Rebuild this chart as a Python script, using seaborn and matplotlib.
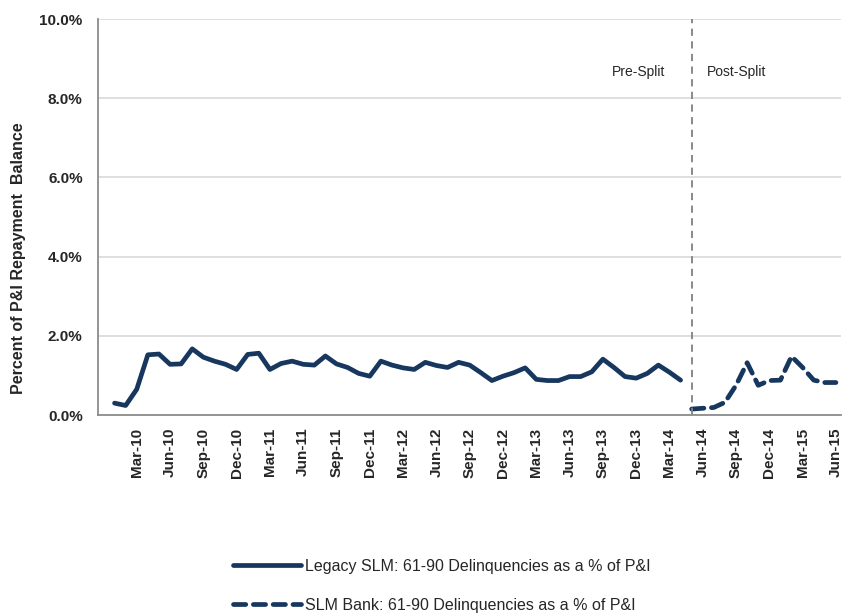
import numpy as np
import pandas as pd
import seaborn as sns
import matplotlib.pyplot as plt
from matplotlib.lines import Line2D

# monthly categories Jan-10 .. Jun-15
months = pd.date_range("2010-01-01", "2015-06-01", freq="MS")
month_labels = [d.strftime("%b-%y") for d in months]

legacy_slm = [0.30, 0.24, 0.65, 1.52, 1.54, 1.28, 1.29, 1.67, 1.46, 1.36,
              1.28, 1.15, 1.53, 1.56, 1.15, 1.30, 1.36, 1.28, 1.26, 1.49,
              1.29, 1.20, 1.05, 0.98, 1.36, 1.26, 1.19, 1.15, 1.33, 1.25,
              1.20, 1.33, 1.26, 1.07, 0.87, 0.98, 1.07, 1.19, 0.90, 0.87,
              0.87, 0.97, 0.97, 1.09, 1.41, 1.20, 0.97, 0.93, 1.05, 1.26,
              1.08, 0.88]
slm_bank = [0.15, 0.17, 0.19, 0.32, 0.75, 1.32, 0.75, 0.87, 0.88, 1.48,
            1.20, 0.88, 0.82, 0.82]

legacy_name = "Legacy SLM: 61-90 Delinquencies as a % of P&I"
bank_name = "SLM Bank: 61-90 Delinquencies as a % of P&I"

df = pd.concat([
    pd.DataFrame({"pos": np.arange(len(legacy_slm)), "value": legacy_slm,
                  "series": legacy_name}),
    pd.DataFrame({"pos": np.arange(len(legacy_slm), len(legacy_slm) + len(slm_bank)),
                  "value": slm_bank, "series": bank_name}),
])

sns.set_style("white")
plt.rcParams["font.family"] = ["Liberation Sans", "DejaVu Sans"]

navy = "#17375E"
fig = plt.figure(figsize=(8.44, 6.13), dpi=100)
ax = fig.add_axes([0.116, 0.323, 0.881, 0.646])

sns.lineplot(data=df, x="pos", y="value", hue="series", style="series",
             palette={legacy_name: navy, bank_name: navy},
             dashes={legacy_name: "", bank_name: (2.6, 1.6)},
             linewidth=3.4, ax=ax, legend=True)
for ln in ax.get_lines():
    ln.set_solid_capstyle("round")
    ln.set_dash_capstyle("round")

ax.set_xlim(-1.5, len(months) - 0.5)
ax.set_ylim(0, 10)
ax.set_yticks(np.arange(0, 10.1, 2))
ax.set_yticklabels([f"{v:.1f}%" for v in np.arange(0, 10.1, 2)],
                   fontsize=11, fontweight="bold")
tick_pos = [i for i, d in enumerate(months) if d.month in (3, 6, 9, 12)]
ax.set_xticks(tick_pos)
ax.set_xticklabels([month_labels[i] for i in tick_pos], rotation=90,
                   fontsize=11, fontweight="bold")
ax.tick_params(axis="x", length=0, pad=9)
ax.tick_params(axis="y", length=0, pad=11)
ax.yaxis.grid(True, color="#d9d9d9", linewidth=1.2)
ax.set_axisbelow(True)
for s in ["top", "right"]:
    ax.spines[s].set_visible(False)
for s in ["left", "bottom"]:
    ax.spines[s].set_color("#8c8c8c")
    ax.spines[s].set_linewidth(1.3)
ax.set_xlabel("")
ax.set_ylabel("Percent of P&I Repayment  Balance", fontsize=11.5,
              fontweight="bold")
ax.yaxis.set_label_coords(-0.097, 0.396)

split = len(legacy_slm)
ax.axvline(split, color="#808080", linestyle=(0, (4, 3)), linewidth=1.3)
ax.text(split - 2.4, 8.65, "Pre-Split", ha="right", va="center", fontsize=10)
ax.text(split + 1.4, 8.65, "Post-Split", ha="left", va="center", fontsize=10)

ax.get_legend().remove()
leg_handles = [Line2D([], [], color=navy, linewidth=3.4, solid_capstyle="round"),
               Line2D([], [], color=navy, linewidth=3.4, dashes=(2.6, 1.6),
                      dash_capstyle="round")]
fig.legend(leg_handles, [legacy_name, bank_name], loc="upper left",
           bbox_to_anchor=(0.2755, 0.088), frameon=False, fontsize=11.5,
           handlelength=4.3, handletextpad=0.25, labelspacing=1.5,
           borderpad=0, borderaxespad=0)

fig.savefig("out.png", dpi=100)
